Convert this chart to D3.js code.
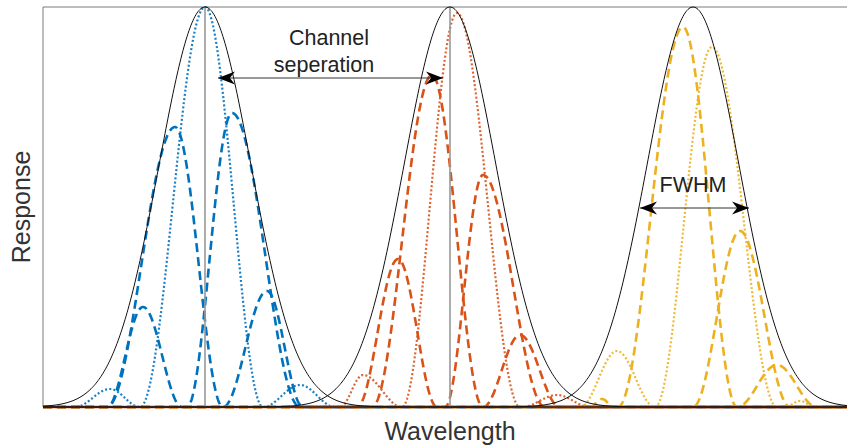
<!DOCTYPE html>
<html>
<head>
<meta charset="utf-8">
<script src="https://cdn.jsdelivr.net/npm/d3@7"></script>
<style>
  body { margin: 0; background: #fff; }
  svg { display: block; }
</style>
</head>
<body>
<div id="chart-area"></div>
<script>
// channel envelopes (arbitrary wavelength units)
var channelCenters = [205, 450, 693]
var channelFwhm = 108
var channelColors = ['#0072BD', '#D95319', '#EDB120']

// sub-responses: each lobe is [start, peak, end, height]
var blueDotted  = [[75, 110, 140, 0.045], [140, 205, 263, 1.0], [263, 300, 335, 0.055]]
var blueDashA   = [[107, 175, 223, 0.70], [223, 267, 303, 0.29]]
var blueDashB   = [[107, 143, 182, 0.25], [187, 232, 300, 0.735]]
var redDotted   = [[340, 363, 402, 0.08], [402, 457, 520, 0.985], [522, 557, 590, 0.03]]
var redDashA    = [[372, 432, 483, 0.83], [483, 520, 560, 0.18]]
var redDashB    = [[357, 398, 437, 0.37], [445, 483, 545, 0.58]]
var yellowDotted = [[580, 617, 655, 0.14], [655, 712, 777, 0.90], [785, 800, 815, 0.015]]
var yellowDashA  = [[618, 683, 737, 0.95], [737, 777, 817, 0.105]]
var yellowDashB  = [[590, 602, 614, 0.02], [693, 740, 790, 0.44]]

var seriesList = [
    { lobes: blueDotted, color: 0, style: 'dot' },
    { lobes: blueDashA, color: 0, style: 'dash' },
    { lobes: blueDashB, color: 0, style: 'dash' },
    { lobes: redDotted, color: 1, style: 'dot' },
    { lobes: redDashA, color: 1, style: 'dash' },
    { lobes: redDashB, color: 1, style: 'dash' },
    { lobes: yellowDotted, color: 2, style: 'dot' },
    { lobes: yellowDashA, color: 2, style: 'dash' },
    { lobes: yellowDashB, color: 2, style: 'dash' }
]

var margin = { left: 43, right: 0, top: 7, bottom: 41 }
var width = 847 - margin.left - margin.right
var height = 448 - margin.top - margin.bottom

var svg = d3.select("#chart-area").append("svg")
    .attr("width", 847)
    .attr("height", 448)

var g = svg.append("g")
    .attr("transform", "translate(" + margin.left + "," + margin.top + ")")

var xScale = d3.scaleLinear()
    .domain([43, 847])
    .range([0, width])

var yScale = d3.scaleLinear()
    .domain([0, 1])
    .range([height, 0])

var line = d3.line()
    .x(function(d) { return xScale(d[0]) })
    .y(function(d) { return yScale(d[1]) })

// smooth lobe between two zeros, peaking at the given point
function lobePoints(lobe) {
    var pts = []
    var x0 = lobe[0], xp = lobe[1], x1 = lobe[2], h = lobe[3]
    for (var x = x0; x <= x1; x += 0.5) {
        var t = x < xp ? (x - x0) / (xp - x0) : (x1 - x) / (x1 - xp)
        var s = Math.sin(Math.PI / 2 * t)
        pts.push([x, h * s * s])
    }
    return pts
}

function seriesPoints(lobes) {
    var pts = [[43, 0]]
    lobes.forEach(function(l) { pts = pts.concat(lobePoints(l)) })
    pts.push([847, 0])
    return pts
}

function envelopePoints(c) {
    var sigma = channelFwhm / 2.3548
    var pts = []
    for (var x = 43; x <= 847; x += 1) {
        pts.push([x, Math.exp(-(x - c) * (x - c) / (2 * sigma * sigma))])
    }
    return pts
}

// axes box (left, top)
g.append("line").attr("x1", 0).attr("y1", 0).attr("x2", 0).attr("y2", height)
    .attr("stroke", "#7a7a7a").attr("stroke-width", 1)
g.append("line").attr("x1", 0).attr("y1", 0).attr("x2", width).attr("y2", 0)
    .attr("stroke", "#7a7a7a").attr("stroke-width", 1)

// colored sub-responses
seriesList.forEach(function(s) {
    g.append("path")
        .datum(seriesPoints(s.lobes))
        .attr("d", line)
        .attr("fill", "none")
        .attr("stroke", channelColors[s.color])
        .attr("stroke-width", s.style == 'dot' ? 2.2 : 2.6)
        .attr("stroke-dasharray", s.style == 'dot' ? "2,2.2" : "9,5")
        .attr("opacity", s.style == 'dot' ? 0.9 : 1)
})

// bottom edge
g.append("line").attr("x1", 0).attr("y1", height).attr("x2", width).attr("y2", height)
    .attr("stroke", "#a5461c").attr("stroke-width", 2.5)

// center markers for the first two channels
channelCenters.slice(0, 2).forEach(function(c) {
    g.append("line")
        .attr("x1", xScale(c)).attr("x2", xScale(c))
        .attr("y1", 0).attr("y2", height)
        .attr("stroke", "#999").attr("stroke-width", 1.6)
})

// gaussian envelopes
channelCenters.forEach(function(c) {
    g.append("path")
        .datum(envelopePoints(c))
        .attr("d", line)
        .attr("fill", "none")
        .attr("stroke", "#111")
        .attr("stroke-width", 1)
})

// double arrows
function arrowHead(x, y, dir) {
    var L = 17, W = 13
    var p = "M" + x + "," + y +
        " L" + (x - dir * L) + "," + (y - W / 2) +
        " L" + (x - dir * 0.7 * L) + "," + y +
        " L" + (x - dir * L) + "," + (y + W / 2) + " Z"
    svg.append("path").attr("d", p).attr("fill", "#000")
}
function doubleArrow(xa, xb, y) {
    svg.append("line")
        .attr("x1", xa).attr("x2", xb).attr("y1", y).attr("y2", y)
        .attr("stroke", "#333").attr("stroke-width", 1)
    arrowHead(xa, y, -1)
    arrowHead(xb, y, 1)
}
doubleArrow(218, 443, 78)
doubleArrow(640, 749, 208)

var font = "'Liberation Sans', Arial, Helvetica, sans-serif"
svg.append("text").attr("x", 329).attr("y", 45)
    .style("font-family", font).style("font-size", "21.5px").style("fill", "#222")
    .style("text-anchor", "middle").text("Channel")
svg.append("text").attr("x", 324).attr("y", 72)
    .style("font-family", font).style("font-size", "21.5px").style("fill", "#222")
    .style("text-anchor", "middle").text("seperation")
svg.append("text").attr("x", 693).attr("y", 192)
    .style("font-family", font).style("font-size", "21.5px").style("fill", "#222")
    .style("text-anchor", "middle").text("FWHM")

// axis labels
svg.append("text").attr("x", 450).attr("y", 440)
    .style("font-family", font).style("font-size", "25px").style("fill", "#333")
    .style("text-anchor", "middle").text("Wavelength")
svg.append("text")
    .attr("transform", "translate(30," + 207 + ") rotate(-90)")
    .style("font-family", font).style("font-size", "25px").style("fill", "#333")
    .style("text-anchor", "middle").text("Response")
</script>
</body>
</html>
